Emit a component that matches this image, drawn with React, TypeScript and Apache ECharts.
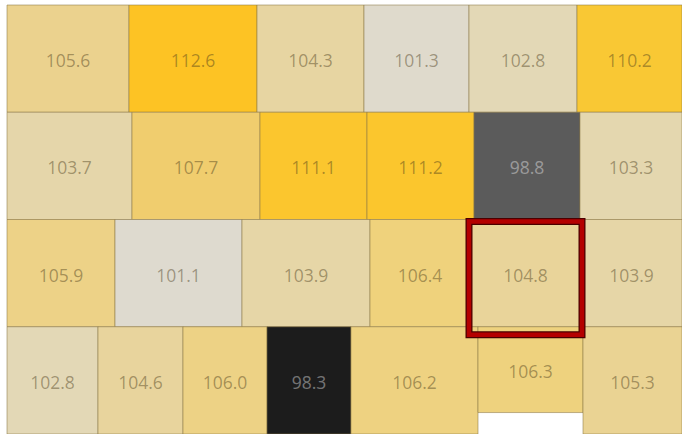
import React, { useEffect, useRef } from "react";
import * as echarts from "echarts";

// Tile values per row (left to right)
const row1Values = [105.6, 112.6, 104.3, 101.3, 102.8, 110.2];
const row2Values = [103.7, 107.7, 111.1, 111.2, 98.8, 103.3];
const row3Values = [105.9, 101.1, 103.9, 106.4, 104.8, 103.9];
const row4Values = [102.8, 104.6, 106.0, 98.3, 106.2, 106.3, 105.3];

// Relative tile weights (width share within each row)
const row1Weights = [122, 128, 107, 105, 108, 105];
const row2Weights = [125, 128, 107, 107, 106, 102];
const row3Weights = [108, 127, 128, 100, 111, 101];
const row4Weights = [91, 85, 84, 84, 127, 105, 99];

// Vertical coverage of each tile in row 4 (one tile is only partly filled)
const row4Coverage = [1, 1, 1, 1, 1, 0.8, 1];

// Highlighted tile: [row, index]
const highlighted = [2, 4];

const rowsValues = [row1Values, row2Values, row3Values, row4Values];
const rowsWeights = [row1Weights, row2Weights, row3Weights, row4Weights];

const colorStops: [number, string][] = [
  [98.3, "#1c1c1c"],
  [98.8, "#5b5b5b"],
  [101.1, "#dedacf"],
  [102.8, "#e3d8b6"],
  [104.3, "#e7d5a2"],
  [105.6, "#ebd28e"],
  [106.4, "#efd27c"],
  [107.7, "#f0cd6e"],
  [110.2, "#f9c834"],
  [112.6, "#fdc324"],
];

function hexToRgb(h: string) {
  const n = parseInt(h.slice(1), 16);
  return [(n >> 16) & 255, (n >> 8) & 255, n & 255];
}
function colorFor(v: number) {
  if (v <= colorStops[0][0]) return colorStops[0][1];
  for (let i = 1; i < colorStops.length; i++) {
    const [v1, c1] = colorStops[i];
    const [v0, c0] = colorStops[i - 1];
    if (v <= v1) {
      const t = (v - v0) / (v1 - v0);
      const a = hexToRgb(c0);
      const b = hexToRgb(c1);
      const m = a.map((x, k) => Math.round(x + (b[k] - x) * t));
      return `rgb(${m[0]},${m[1]},${m[2]})`;
    }
  }
  return colorStops[colorStops.length - 1][1];
}

export default function App() {
  const ref = useRef<HTMLDivElement>(null);
  useEffect(() => {
    document.body.style.margin = "0";
    if (!ref.current) return;
    const chart = echarts.init(ref.current, undefined, { renderer: "svg" });

    const data: number[][] = [];
    rowsValues.forEach((vals, r) => {
      let acc = 0;
      vals.forEach((v, i) => {
        const w = rowsWeights[r][i];
        const cov = r === 3 ? row4Coverage[i] : 1;
        const hl = highlighted[0] === r && highlighted[1] === i ? 1 : 0;
        data.push([r, acc, acc + w, v, cov, hl]);
        acc += w;
      });
    });

    chart.setOption({
      animation: false,
      backgroundColor: "#ffffff",
      grid: { left: 7, right: 0, top: 5, bottom: 0 },
      xAxis: { type: "value", min: 0, max: 675, show: false },
      yAxis: { type: "value", min: 0, max: 4, inverse: true, show: false },
      series: [
        {
          type: "custom",
          data,
          renderItem: (params: any, api: any) => {
            const row = api.value(0);
            const s = api.value(1);
            const e = api.value(2);
            const v = api.value(3);
            const cov = api.value(4);
            const hl = api.value(5);
            const p0 = api.coord([s, row]);
            const p1 = api.coord([e, row + cov]);
            const x = p0[0];
            const y = p0[1];
            const w = p1[0] - p0[0];
            const h = p1[1] - p0[1];
            const dark = v < 100;
            const children: any[] = [
              {
                type: "rect",
                shape: { x, y, width: w, height: h },
                style: {
                  fill: colorFor(v),
                  stroke: "rgba(140,120,70,0.55)",
                  lineWidth: 1,
                },
              },
              {
                type: "text",
                z2: 10,
                style: {
                  text: v.toFixed(1),
                  x: x + w / 2,
                  y: y + h / 2 + 1.5,
                  align: "center",
                  verticalAlign: "middle",
                  fill: dark ? "rgba(255,255,255,0.4)" : "rgba(75,60,25,0.45)",
                  font: "17.5px 'Open Sans', sans-serif",
                },
              },
            ];
            if (hl) {
              const bx = x - 1;
              const by = y + 2;
              const bw = w + 2;
              const bh = h + 6;
              children.push({
                type: "rect",
                z2: 100,
                shape: { x: bx, y: by, width: bw, height: bh },
                style: { fill: "none", stroke: "#4a0000", lineWidth: 7 },
              });
              children.push({
                type: "rect",
                z2: 101,
                shape: { x: bx, y: by, width: bw, height: bh },
                style: { fill: "none", stroke: "#b40000", lineWidth: 4.5 },
              });
            }
            return { type: "group", children };
          },
        },
      ],
    });
    return () => chart.dispose();
  }, []);
  return <div ref={ref} style={{ width: 682, height: 434 }} />;
}
